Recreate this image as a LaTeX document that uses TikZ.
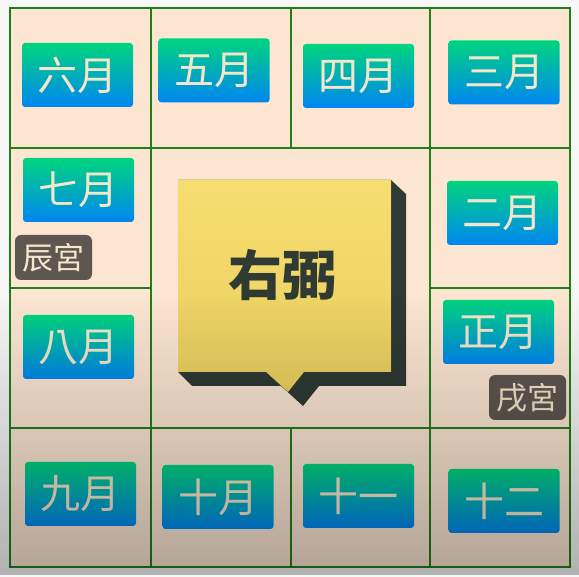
\documentclass[tikz,border=0pt]{standalone}
\usepackage{fontspec}
\usepackage{tikz}
\usetikzlibrary{calc,positioning}
\newfontfamily\cjk{Noto Sans CJK TC}
\definecolor{cellbg}{HTML}{FCE6D2}
\definecolor{gridgreen}{HTML}{1F7F1A}
\definecolor{mgreen}{HTML}{00D47E}
\definecolor{mblue}{HTML}{0086F2}
\definecolor{cream}{HTML}{F4E6CA}
\definecolor{palbg}{HTML}{5E5650}
\definecolor{notey}{HTML}{F6DD6F}
\definecolor{noteyd}{HTML}{EBD060}
\definecolor{notedark}{HTML}{2F3A33}

\begin{document}
\begin{tikzpicture}[x=1pt,y=-1pt]
    \tikzset{MonthStyle/.style = {rectangle,
        rounded corners = 3pt,
        minimum width   = 111pt,
        minimum height  = 64pt,
        inner sep       = 0pt,
        top color       = mgreen,
        bottom color    = mblue,
        text            = cream,
        font            = \cjk\fontsize{40}{40}\selectfont},
      PalaceStyle/.style = {rectangle,
        rounded corners = 6pt,
        minimum width   = 77pt,
        minimum height  = 45pt,
        inner sep       = 0pt,
        fill            = palbg,
        text            = cream,
        font            = \cjk\fontsize{31}{31}\selectfont},
      GridStyle/.style = {draw=gridgreen, line width=1.8pt}}
    \useasboundingbox (0,0) rectangle (579,577);
    \fill[white!97!black] (0,0) rectangle (579,577);
    \fill[cellbg] (10,8) rectangle (570,567);
    % grid
    \draw[GridStyle] (10,8) rectangle (570,567);
    \draw[GridStyle] (151,8) -- (151,567);
    \draw[GridStyle] (430,8) -- (430,567);
    \draw[GridStyle] (291,8) -- (291,148);
    \draw[GridStyle] (291,428) -- (291,567);
    \draw[GridStyle] (10,148) -- (570,148);
    \draw[GridStyle] (10,428) -- (570,428);
    \draw[GridStyle] (10,288) -- (151,288);
    \draw[GridStyle] (430,288) -- (570,288);
    % months
    \node[MonthStyle] (m6)  at (77.5,75)  {六月};
    \node[MonthStyle] (m5)  at (214,70.5) {五月};
    \node[MonthStyle] (m4)  at (358.5,76) {四月};
    \node[MonthStyle] (m3)  at (504,72.5) {三月};
    \node[MonthStyle] (m7)  at (78.5,190) {七月};
    \node[MonthStyle] (m2)  at (502.5,213) {二月};
    \node[MonthStyle] (m8)  at (78.5,347) {八月};
    \node[MonthStyle] (m1)  at (498.5,332) {正月};
    \node[MonthStyle] (m9)  at (80.5,494) {九月};
    \node[MonthStyle] (m10) at (218,497)  {十月};
    \node[MonthStyle] (m11) at (358.5,496) {十一};
    \node[MonthStyle] (m12) at (504,501)  {十二};
    \node[PalaceStyle] (chen) at (53.5,257.5) {辰宮};
    \node[PalaceStyle] (xu)   at (527.5,397.5) {戌宮};
    % note in the middle
    \fill[notedark] (391,180) -- (406,194) -- (406,386) -- (319,386) -- (303,406)
      -- (281,386) -- (192,386) -- (178,372) -- (391,372) -- cycle;
    \fill[top color=notey, bottom color=noteyd] (178,180) -- (391,180) -- (391,372)
      -- (304,372) -- (288,392) -- (266,372) -- (178,372) -- cycle;
    \node[text=notedark, font=\cjk\bfseries\fontsize{54}{54}\selectfont] (star) at (282,275) {右弼};
    % darker towards the bottom
    \foreach \i in {0,...,56}
      \fill[black, opacity=\i*0.005] (0,290+\i*5) rectangle (579,295+\i*5);
\end{tikzpicture}
\end{document}
